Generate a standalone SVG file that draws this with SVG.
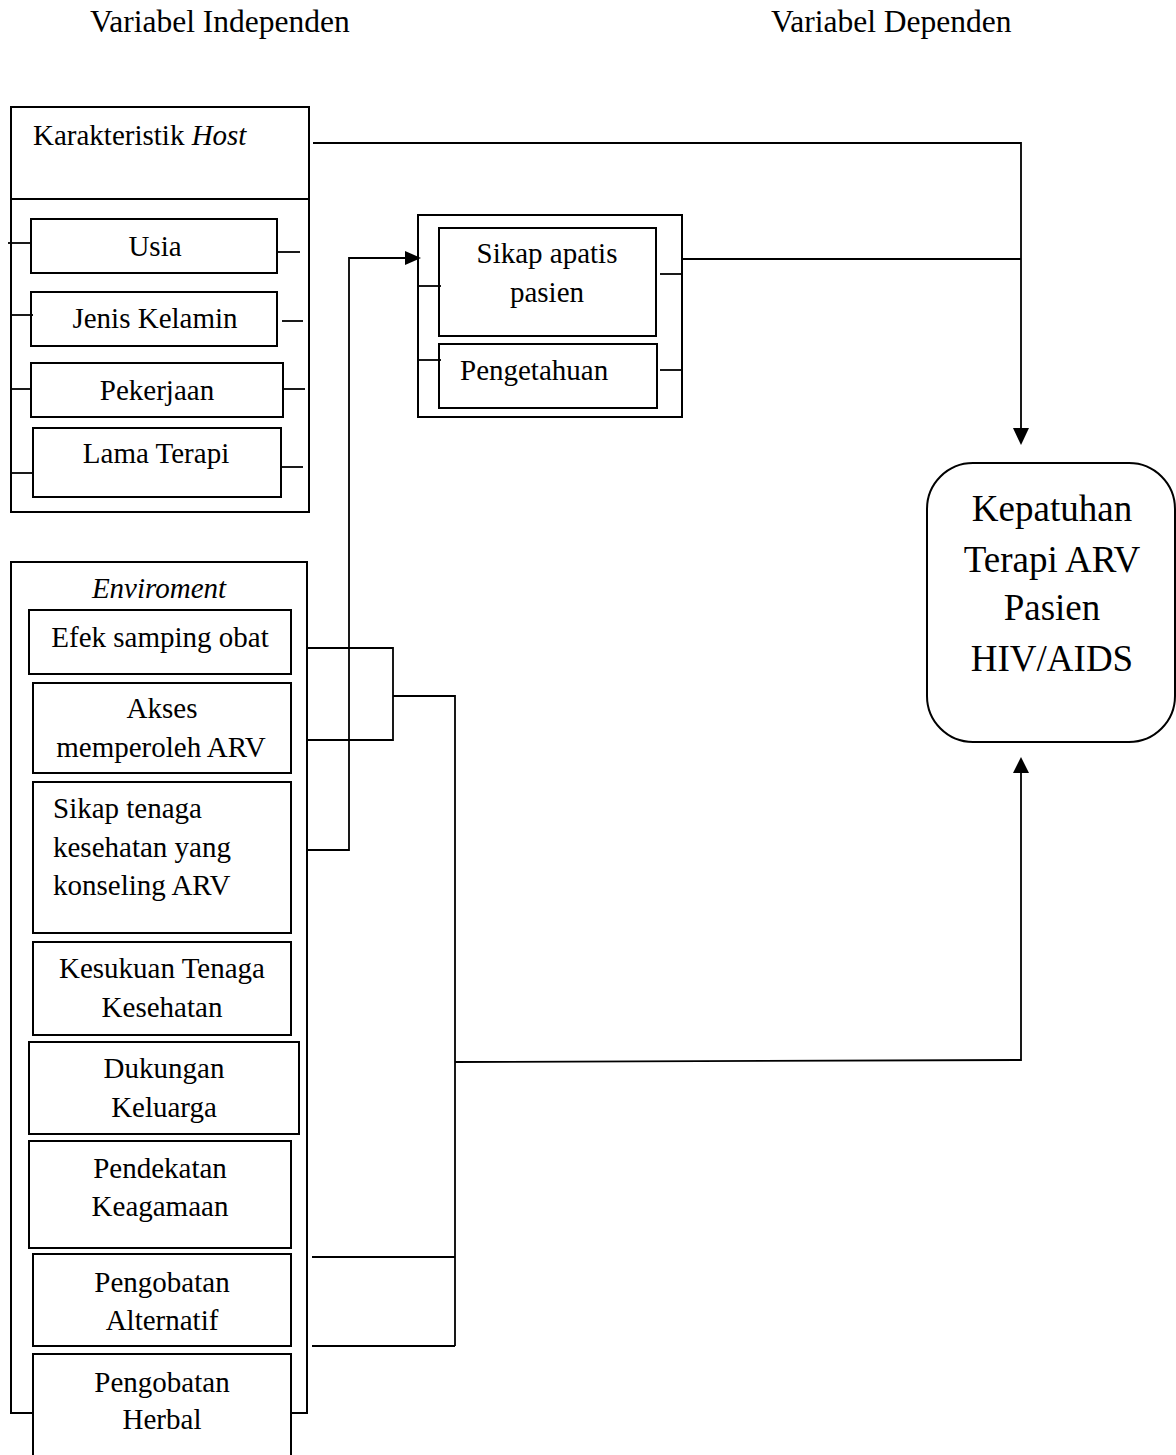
<svg xmlns="http://www.w3.org/2000/svg" width="1176" height="1455" viewBox="0 0 1176 1455">
<style>
text{font-family:"Liberation Serif","Times New Roman",serif;font-size:29px;fill:#000}
.c{text-anchor:middle}
.i{font-style:italic}
.hd{font-size:31.5px}
.big{font-size:37px}
.box{fill:#fff;stroke:#000;stroke-width:2}
.ln{fill:none;stroke:#000;stroke-width:1.8}
.ah{fill:#000;stroke:none}
</style>
<rect width="1176" height="1455" fill="#fff"/>
<g id="headers">
<text class="hd" x="90" y="32">Variabel Independen</text>
<text class="hd" x="771" y="32">Variabel Dependen</text>
</g>
<g id="host">
<rect class="box" x="11" y="107" width="298" height="405"/>
<line class="ln" x1="11" y1="199" x2="309" y2="199"/>
<text x="33" y="145">Karakteristik <tspan class="i">Host</tspan></text>
</g>
<g id="usia">
<rect class="box" x="31" y="219" width="246" height="54"/>
<text class="c" x="155" y="256">Usia</text>
<line class="ln" x1="8" y1="243" x2="31" y2="243"/>
<line class="ln" x1="277" y1="252" x2="300" y2="252"/>
</g>
<g id="jenis-kelamin">
<rect class="box" x="31" y="292" width="246" height="54"/>
<text class="c" x="155" y="328">Jenis Kelamin</text>
<line class="ln" x1="11" y1="315" x2="33" y2="315"/>
<line class="ln" x1="282" y1="321" x2="303" y2="321"/>
</g>
<g id="pekerjaan">
<rect class="box" x="31" y="363" width="252" height="54"/>
<text class="c" x="157" y="400">Pekerjaan</text>
<line class="ln" x1="11" y1="389" x2="31" y2="389"/>
<line class="ln" x1="283" y1="389" x2="305" y2="389"/>
</g>
<g id="lama-terapi">
<rect class="box" x="33" y="428" width="248" height="69"/>
<text class="c" x="156" y="463">Lama Terapi</text>
<line class="ln" x1="11" y1="473" x2="33" y2="473"/>
<line class="ln" x1="282" y1="467" x2="303" y2="467"/>
</g>
<g id="env">
<rect class="box" x="11" y="562" width="296" height="851"/>
<text class="c i" x="159" y="598">Enviroment</text>
</g>
<g id="efek">
<rect class="box" x="29" y="610" width="262" height="64"/>
<text class="c" x="160" y="647">Efek samping obat</text>
</g>
<g id="akses">
<rect class="box" x="33" y="683" width="258" height="90"/>
<text class="c" x="162" y="718">Akses</text>
<text class="c" x="161" y="757">memperoleh ARV</text>
</g>
<g id="sikap-tenaga">
<rect class="box" x="33" y="782" width="258" height="151"/>
<text x="53" y="818">Sikap tenaga</text>
<text x="53" y="857">kesehatan yang</text>
<text x="53" y="895">konseling ARV</text>
</g>
<g id="kesukuan">
<rect class="box" x="33" y="942" width="258" height="93"/>
<text class="c" x="162" y="978">Kesukuan Tenaga</text>
<text class="c" x="162" y="1017">Kesehatan</text>
</g>
<g id="dukungan">
<rect class="box" x="29" y="1042" width="270" height="92"/>
<text class="c" x="164" y="1078">Dukungan</text>
<text class="c" x="164" y="1117">Keluarga</text>
</g>
<g id="pendekatan">
<rect class="box" x="29" y="1141" width="262" height="107"/>
<text class="c" x="160" y="1178">Pendekatan</text>
<text class="c" x="160" y="1216">Keagamaan</text>
</g>
<g id="alternatif">
<rect class="box" x="33" y="1254" width="258" height="92"/>
<text class="c" x="162" y="1292">Pengobatan</text>
<text class="c" x="162" y="1330">Alternatif</text>
</g>
<g id="herbal">
<rect class="box" x="33" y="1354" width="258" height="120"/>
<text class="c" x="162" y="1392">Pengobatan</text>
<text class="c" x="162" y="1429">Herbal</text>
</g>
<g id="patient">
<rect class="box" x="418" y="215" width="264" height="202"/>
</g>
<g id="sikap-apatis">
<rect class="box" x="439" y="228" width="217" height="108"/>
<text class="c" x="547" y="263">Sikap apatis</text>
<text class="c" x="547" y="302">pasien</text>
<line class="ln" x1="418" y1="286" x2="441" y2="286"/>
<line class="ln" x1="660" y1="274" x2="682" y2="274"/>
</g>
<g id="pengetahuan">
<rect class="box" x="439" y="344" width="218" height="64"/>
<text x="460" y="380">Pengetahuan</text>
<line class="ln" x1="418" y1="360" x2="441" y2="360"/>
<line class="ln" x1="660" y1="370" x2="682" y2="370"/>
</g>
<g id="kepatuhan">
<rect class="box" x="927" y="463" width="248" height="279" rx="46" ry="46"/>
<text class="c big" x="1052" y="521">Kepatuhan</text>
<text class="c big" x="1052" y="572">Terapi ARV</text>
<text class="c big" x="1052" y="620">Pasien</text>
<text class="c big" x="1052" y="671">HIV/AIDS</text>
</g>
<g id="connectors">
<polyline class="ln" points="313,143 1021,143 1021,430"/>
<polygon class="ah" points="1013,428 1029,428 1021,445"/>
<line class="ln" x1="682" y1="259" x2="1021" y2="259"/>
<polyline class="ln" points="307,850 349,850 349,258 406,258"/>
<polygon class="ah" points="405,251 405,265 421,258"/>
<polyline class="ln" points="307,648 393,648 393,740 307,740"/>
<polyline class="ln" points="393,696 455,696 455,1346"/>
<line class="ln" x1="312" y1="1257" x2="455" y2="1257"/>
<line class="ln" x1="312" y1="1346" x2="455" y2="1346"/>
<polyline class="ln" points="455,1062 1021,1060 1021,772"/>
<polygon class="ah" points="1013,773 1029,773 1021,757"/>
</g>
</svg>
